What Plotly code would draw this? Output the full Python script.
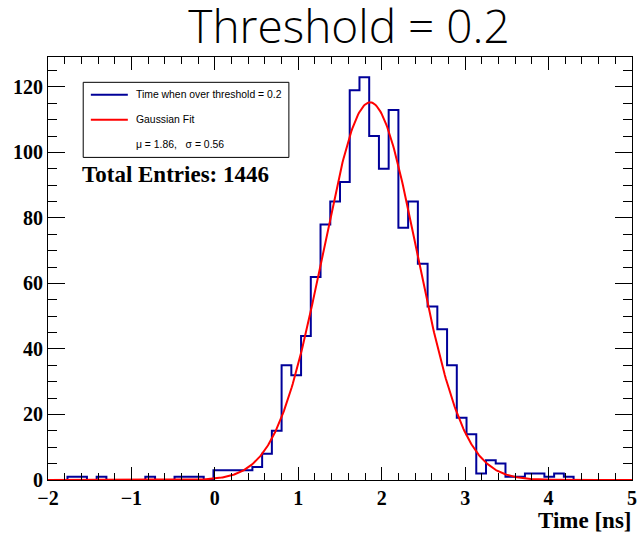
import numpy as np
import plotly.graph_objects as go

# ---- data ----
x_min, x_max, n_bins = -2.0, 5.0, 60
counts = [0, 0, 1, 1, 0, 1, 0, 0, 0, 0,
          1, 0, 0, 1, 1, 1, 0, 3, 3, 3,
          3, 4, 8, 15, 35, 32, 44, 62, 78, 85,
          91, 119, 123, 105, 95, 113, 77, 85, 66, 53,
          46, 35, 19, 14, 2, 6, 5, 1, 1, 2,
          2, 1, 2, 1, 0, 0, 0, 0, 0, 0]
fit_mu = 1.86
fit_sigma = 0.56
fit_amp = 115.3
total_entries = 1446
title_text = "Threshold = 0.2"
hist_name = "Time when over threshold = 0.2"
fit_name = "Gaussian Fit"
x_title = "Time [ns]"
y_max = 129.15

# ---- geometry helpers ----
W, H = 641, 535
L, R, T, B = 47.8, 636.7, 57.4, 480.0

def px(xp):
    return (xp - L) / (R - L)

def py(yp):
    return (B - yp) / (B - T)

bw = (x_max - x_min) / n_bins
edges = [x_min + k * bw for k in range(n_bins + 1)]
step_x = edges
step_y = counts + [0]

fx = np.linspace(x_min, x_max, 600)
fy = fit_amp * np.exp(-0.5 * ((fx - fit_mu) / fit_sigma) ** 2)

fig = go.Figure()
fig.add_trace(go.Scatter(x=step_x, y=step_y, mode="lines", line=dict(shape="hv", color="#000099", width=2),
                         showlegend=False, hoverinfo="skip"))
fig.add_trace(go.Scatter(x=fx, y=fy, mode="lines", line=dict(color="#ff0000", width=2),
                         showlegend=False, hoverinfo="skip"))

tickfont = dict(family="Liberation Serif", size=20, color="black", weight="bold")
fig.update_xaxes(range=[x_min, x_max], showline=True, linecolor="black", linewidth=1, mirror="allticks",
                 ticks="inside", ticklen=13, tickcolor="black", dtick=1, tick0=0,
                 minor=dict(dtick=0.2, tick0=0, ticks="inside", ticklen=7, tickcolor="black", showgrid=False),
                 showgrid=False, zeroline=False, tickfont=tickfont, ticklabeloverflow="allow")
fig.update_yaxes(range=[0, y_max], showline=True, linecolor="black", linewidth=1, mirror="allticks",
                 ticks="inside", ticklen=17, tickcolor="black", dtick=20, tick0=0,
                 minor=dict(dtick=5, tick0=0, ticks="inside", ticklen=9, tickcolor="black", showgrid=False),
                 showgrid=False, zeroline=False, tickfont=tickfont, ticklabeloverflow="allow")

shapes = [
    dict(type="rect", xref="paper", yref="paper", x0=px(83.3), x1=px(290.7), y0=py(157.7), y1=py(82.7),
         line=dict(color="black", width=1), fillcolor="white", layer="above"),
    dict(type="line", xref="paper", yref="paper", x0=px(91), x1=px(128.3), y0=py(95), y1=py(95),
         line=dict(color="#000099", width=2)),
    dict(type="line", xref="paper", yref="paper", x0=px(91), x1=px(128.3), y0=py(120), y1=py(120),
         line=dict(color="#ff0000", width=2)),
]
legfont = dict(family="Liberation Sans", size=10.4, color="black")
annotations = [
    dict(text=hist_name, x=px(134.5), y=py(95), xref="paper", yref="paper", xanchor="left", yanchor="middle",
         showarrow=False, font=legfont),
    dict(text=fit_name, x=px(134.5), y=py(120), xref="paper", yref="paper", xanchor="left", yanchor="middle",
         showarrow=False, font=legfont),
    dict(text=f"\u03bc = {fit_mu:.2f},&nbsp;&nbsp;&nbsp;\u03c3 = {fit_sigma:.2f}", x=px(134.5), y=py(145),
         xref="paper", yref="paper", xanchor="left", yanchor="middle", showarrow=False, font=legfont),
    dict(text=f"Total Entries: {total_entries}", x=px(80.5), y=py(175), xref="paper", yref="paper",
         xanchor="left", yanchor="middle", showarrow=False,
         font=dict(family="Liberation Serif", size=23, color="black", weight="bold")),
    dict(text=x_title, x=px(639.0), y=py(520), xref="paper", yref="paper", xanchor="right", yanchor="middle",
         showarrow=False, font=dict(family="Liberation Serif", size=23, color="black", weight="bold")),
]

fig.update_layout(
    width=W, height=H, autosize=False,
    margin=dict(l=L, r=W - R, t=T, b=H - B, pad=0),
    paper_bgcolor="white", plot_bgcolor="white",
    title=dict(text=title_text, x=349 / W, xanchor="center", y=1 - 27 / H, yanchor="middle",
               font=dict(family="Open Sans", size=46, color="black", weight=300)),
    shapes=shapes, annotations=annotations, showlegend=False,
)

fig.write_html("out.html")
